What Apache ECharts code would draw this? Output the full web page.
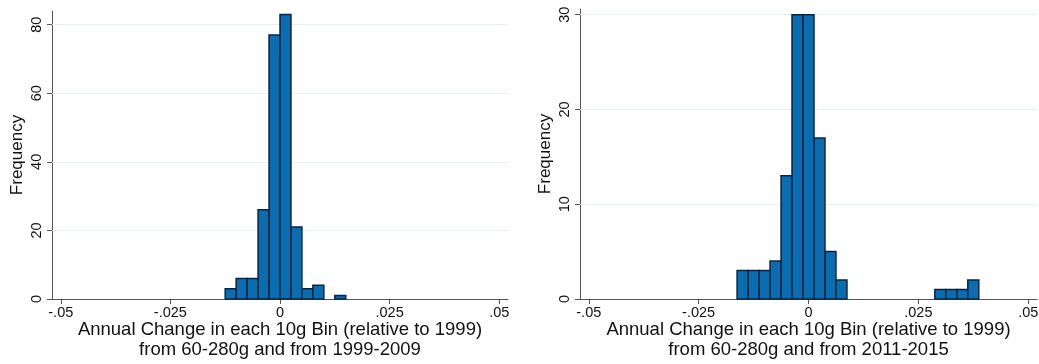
<!DOCTYPE html>
<html>
<head>
<meta charset="utf-8">
<script src="https://cdn.jsdelivr.net/npm/echarts@6/dist/echarts.min.js"></script>
<style>
  html, body { margin: 0; padding: 0; background: #fff; }
  #chart { width: 1039px; height: 364px; }
</style>
</head>
<body>
<div id="chart"></div>
<script>
// Histogram bins: left edge of each 0.0025-wide bin and its count
const binWidth = 0.0025;
const leftBinStarts = [-0.0125, -0.01, -0.0075, -0.005, -0.0025, 0, 0.0025, 0.005, 0.0075, 0.01, 0.0125];
const leftCounts    = [3, 6, 6, 26, 77, 83, 21, 3, 4, 0, 1];
const rightBinStarts = [-0.01625, -0.01375, -0.01125, -0.00875, -0.00625, -0.00375, -0.00125, 0.00125, 0.00375, 0.00625,
                        0.02875, 0.03125, 0.03375, 0.03625];
const rightCounts    = [3, 3, 3, 4, 13, 30, 30, 17, 5, 2,
                        1, 1, 1, 2];

// Axis ticks and their labels
const xTicks = [-0.05, -0.025, 0, 0.025, 0.05];
const xTickLabels = ['-.05', '-.025', '0', '.025', '.05'];
const leftYTicks = [0, 20, 40, 60, 80];
const rightYTicks = [0, 10, 20, 30];
const leftGrid = [20, 40, 60, 80];
const rightGrid = [10, 20, 30];

const xTitleLeft = 'Annual Change in each 10g Bin (relative to 1999)\nfrom 60-280g and from 1999-2009';
const xTitleRight = 'Annual Change in each 10g Bin (relative to 1999)\nfrom 60-280g and from 2011-2015';
const yTitle = 'Frequency';

const FONT = '"Liberation Sans", Arial, sans-serif';
const BAR_FILL = '#0a6db0';
const BAR_EDGE = '#0a2440';
const AXIS_COLOR = '#555';
const TEXT_COLOR = '#111';
const GRID_COLOR = '#e8eff1';

function bins(starts, counts) {
  return starts.map((s, i) => [s, s + binWidth, counts[i]]);
}

function renderBar(params, api) {
  const p0 = api.coord([api.value(0), 0]);
  const p1 = api.coord([api.value(1), api.value(2)]);
  if (api.value(2) <= 0) return null;
  return {
    type: 'rect',
    shape: { x: p0[0], y: p1[1], width: p1[0] - p0[0], height: p0[1] - p1[1] },
    style: { fill: BAR_FILL, stroke: BAR_EDGE, lineWidth: 1.5 }
  };
}

function xAxisFor(gridIndex, title) {
  return {
    type: 'value', gridIndex, min: -0.052, max: 0.052,
    name: title, nameLocation: 'middle', nameGap: 21, nameMoveOverlap: false,
    nameTextStyle: { fontFamily: FONT, fontSize: 18.5, color: TEXT_COLOR, lineHeight: 20 },
    axisLine: { show: true, onZero: false, lineStyle: { color: AXIS_COLOR, width: 1 } },
    axisTick: { show: true, length: 5, customValues: xTicks, lineStyle: { color: AXIS_COLOR } },
    axisLabel: {
      customValues: xTicks, margin: 6,
      fontFamily: FONT, fontSize: 14.5, color: TEXT_COLOR,
      formatter: v => xTickLabels[xTicks.findIndex(t => Math.abs(t - v) < 1e-9)] ?? ''
    },
    splitLine: { show: false }
  };
}

function yAxisFor(gridIndex, max, ticks) {
  return {
    type: 'value', gridIndex, min: 0, max,
    name: yTitle, nameLocation: 'middle', nameGap: 26,
    nameTextStyle: { fontFamily: FONT, fontSize: 17, color: TEXT_COLOR },
    axisLine: { show: true, onZero: false, lineStyle: { color: AXIS_COLOR, width: 1 } },
    axisTick: { show: true, length: 5, customValues: ticks, lineStyle: { color: AXIS_COLOR } },
    axisLabel: {
      customValues: ticks, rotate: 90, margin: 8,
      fontFamily: FONT, fontSize: 14.5, color: TEXT_COLOR
    },
    splitLine: { show: false }
  };
}

// Light horizontal reference lines, drawn beneath the bars
function gridSeries(axisIndex, values) {
  return {
    type: 'line', xAxisIndex: axisIndex, yAxisIndex: axisIndex, data: [], z: 1,
    markLine: {
      z: 1, silent: true, symbol: 'none', label: { show: false },
      lineStyle: { color: GRID_COLOR, type: 'solid', width: 1 },
      data: values.map(v => ({ yAxis: v }))
    }
  };
}

const chart = echarts.init(document.getElementById('chart'), null, { renderer: 'canvas' });
chart.setOption({
  animation: false,
  backgroundColor: '#ffffff',
  grid: [
    { left: 52, top: 11, width: 456, height: 288, outerBoundsMode: 'none' },
    { left: 580, top: 9, width: 457, height: 290, outerBoundsMode: 'none' }
  ],
  xAxis: [xAxisFor(0, xTitleLeft), xAxisFor(1, xTitleRight)],
  yAxis: [yAxisFor(0, 84, leftYTicks), yAxisFor(1, 30.6, rightYTicks)],
  series: [
    gridSeries(0, leftGrid),
    gridSeries(1, rightGrid),
    {
      type: 'custom', xAxisIndex: 0, yAxisIndex: 0,
      encode: { x: [0, 1], y: 2 },
      data: bins(leftBinStarts, leftCounts),
      renderItem: renderBar,
      z: 3
    },
    {
      type: 'custom', xAxisIndex: 1, yAxisIndex: 1,
      encode: { x: [0, 1], y: 2 },
      data: bins(rightBinStarts, rightCounts),
      renderItem: renderBar,
      z: 3
    }
  ]
});
</script>
</body>
</html>
